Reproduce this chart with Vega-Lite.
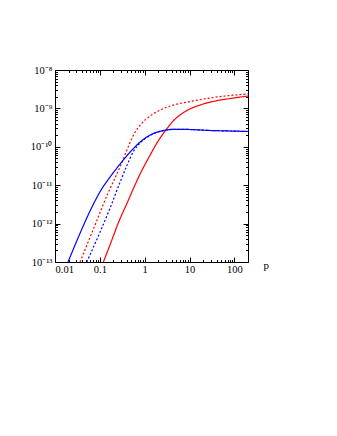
{
  "$schema": "https://vega.github.io/schema/vega-lite/v6.json",
  "autosize": {"type": "none"},
  "padding": {"left": 55, "top": 70, "right": 89, "bottom": 174},
  "width": 193,
  "height": 192,
  "config": {
    "view": {"stroke": "black", "strokeWidth": 1},
    "font": "Liberation Serif",
    "axis": {
      "labelFont": "Liberation Serif",
      "labelFontSize": 10.5,
      "labelColor": "black",
      "tickColor": "black",
      "domain": false,
      "grid": false,
      "title": null
    }
  },
  "data": {
    "values": [
      {"s": "red solid", "p": 0.1197, "v": 1e-13},
      {"s": "red solid", "p": 0.178, "v": 3.32e-13},
      {"s": "red solid", "p": 0.268, "v": 1.17e-12},
      {"s": "red solid", "p": 0.405, "v": 3.44e-12},
      {"s": "red solid", "p": 0.579, "v": 8.97e-12},
      {"s": "red solid", "p": 0.789, "v": 1.96e-11},
      {"s": "red solid", "p": 1.32, "v": 6.1e-11},
      {"s": "red solid", "p": 1.99, "v": 1.42e-10},
      {"s": "red solid", "p": 2.85, "v": 2.58e-10},
      {"s": "red solid", "p": 4.31, "v": 4.7e-10},
      {"s": "red solid", "p": 7.98, "v": 8.3e-10},
      {"s": "red solid", "p": 17.3, "v": 1.23e-9},
      {"s": "red solid", "p": 37.3, "v": 1.56e-9},
      {"s": "red solid", "p": 80.5, "v": 1.81e-9},
      {"s": "red solid", "p": 200, "v": 2.1e-9},
      {"s": "red dotted", "p": 0.0361, "v": 1e-13},
      {"s": "red dotted", "p": 0.0866, "v": 1.24e-12},
      {"s": "red dotted", "p": 0.152, "v": 6.26e-12},
      {"s": "red dotted", "p": 0.218, "v": 1.54e-11},
      {"s": "red dotted", "p": 0.313, "v": 4.02e-11},
      {"s": "red dotted", "p": 0.426, "v": 9.9e-11},
      {"s": "red dotted", "p": 0.579, "v": 2.15e-10},
      {"s": "red dotted", "p": 0.832, "v": 3.93e-10},
      {"s": "red dotted", "p": 1.32, "v": 6.34e-10},
      {"s": "red dotted", "p": 2.21, "v": 9.08e-10},
      {"s": "red dotted", "p": 4.77, "v": 1.26e-9},
      {"s": "red dotted", "p": 10.3, "v": 1.51e-9},
      {"s": "red dotted", "p": 28.8, "v": 1.87e-9},
      {"s": "red dotted", "p": 80.5, "v": 2.17e-9},
      {"s": "red dotted", "p": 200, "v": 2.37e-9},
      {"s": "blue dotted", "p": 0.0511, "v": 1e-13},
      {"s": "blue dotted", "p": 0.101, "v": 6.04e-13},
      {"s": "blue dotted", "p": 0.169, "v": 2.55e-12},
      {"s": "blue dotted", "p": 0.2825, "v": 1.21e-11},
      {"s": "blue dotted", "p": 0.405, "v": 3.36e-11},
      {"s": "blue dotted", "p": 0.551, "v": 7.33e-11},
      {"s": "blue dotted", "p": 0.789, "v": 1.26e-10},
      {"s": "blue dotted", "p": 1.32, "v": 1.97e-10},
      {"s": "blue dotted", "p": 2.58, "v": 2.65e-10},
      {"s": "blue dotted", "p": 4.77, "v": 2.86e-10},
      {"s": "blue dotted", "p": 10.3, "v": 2.82e-10},
      {"s": "blue dotted", "p": 28.8, "v": 2.66e-10},
      {"s": "blue dotted", "p": 80.5, "v": 2.58e-10},
      {"s": "blue dotted", "p": 200, "v": 2.5e-10},
      {"s": "blue solid", "p": 0.0195, "v": 1e-13},
      {"s": "blue solid", "p": 0.0326, "v": 4.22e-13},
      {"s": "blue solid", "p": 0.0604, "v": 2.13e-12},
      {"s": "blue solid", "p": 0.1064, "v": 7.5e-12},
      {"s": "blue solid", "p": 0.169, "v": 1.64e-11},
      {"s": "blue solid", "p": 0.2825, "v": 3.56e-11},
      {"s": "blue solid", "p": 0.472, "v": 7.33e-11},
      {"s": "blue solid", "p": 0.789, "v": 1.33e-10},
      {"s": "blue solid", "p": 1.32, "v": 2.03e-10},
      {"s": "blue solid", "p": 2.58, "v": 2.65e-10},
      {"s": "blue solid", "p": 4.77, "v": 2.86e-10},
      {"s": "blue solid", "p": 10.3, "v": 2.82e-10},
      {"s": "blue solid", "p": 28.8, "v": 2.66e-10},
      {"s": "blue solid", "p": 80.5, "v": 2.58e-10},
      {"s": "blue solid", "p": 200, "v": 2.5e-10}
    ]
  },
  "layer": [
    {
      "mark": {"type": "line", "clip": true, "strokeWidth": 1.2, "interpolate": "monotone"},
      "encoding": {
        "x": {"field": "p", "type": "quantitative",
          "scale": {"type": "log", "domain": [0.01, 200], "nice": false},
          "axis": {"orient": "bottom", "values": [0.01, 0.1, 1, 10, 100], "format": "~g", "tickSize": -5, "labelPadding": 7, "title": "p", "titleFont": "Liberation Serif", "titleFontSize": 11, "titleFontWeight": "normal", "titleX": 208, "titleY": 3, "titleAlign": "left", "titleBaseline": "middle", "titleColor": "black"}},
        "y": {"field": "v", "type": "quantitative",
          "scale": {"type": "log", "domain": [1e-13, 1e-8], "nice": false},
          "axis": {"orient": "left", "values": [1e-13, 1e-12, 1e-11, 1e-10, 1e-9, 1e-8], "tickSize": -5, "labelPadding": 8,
            "labelExpr": "'10' + (datum.value < 1.5e-13 ? '⁻¹³' : datum.value < 1.5e-12 ? '⁻¹²' : datum.value < 1.5e-11 ? '⁻¹¹' : datum.value < 1.5e-10 ? '⁻¹⁰' : datum.value < 1.5e-9 ? '⁻⁹' : '⁻⁸')"}},
        "color": {"field": "s", "type": "nominal", "legend": null,
          "scale": {"domain": ["red solid", "red dotted", "blue dotted", "blue solid"], "range": ["#ff0000", "#ff0000", "#0000ff", "#0000ff"]}},
        "strokeDash": {"field": "s", "type": "nominal", "legend": null,
          "scale": {"domain": ["red solid", "red dotted", "blue dotted", "blue solid"], "range": [[1, 0], [2, 2], [2, 2], [1, 0]]}}
      }
    },
    {
      "mark": {"type": "line", "opacity": 0},
      "encoding": {
        "x": {"field": "p", "type": "quantitative",
          "axis": {"orient": "bottom", "labels": false, "tickSize": -2.5, "values": [0.02,0.03,0.04,0.05,0.06,0.07,0.08,0.09,0.2,0.3,0.4,0.5,0.6,0.7,0.8,0.9,2,3,4,5,6,7,8,9,20,30,40,50,60,70,80,90]}},
        "y": {"field": "v", "type": "quantitative",
          "axis": {"orient": "left", "labels": false, "tickSize": -2.5, "values": [2e-13,3e-13,4e-13,5e-13,6e-13,7e-13,8e-13,9e-13,2e-12,3e-12,4e-12,5e-12,6e-12,7e-12,8e-12,9e-12,2e-11,3e-11,4e-11,5e-11,6e-11,7e-11,8e-11,9e-11,2e-10,3e-10,4e-10,5e-10,6e-10,7e-10,8e-10,9e-10,2e-9,3e-9,4e-9,5e-9,6e-9,7e-9,8e-9,9e-9]}},
        "detail": {"field": "s"}
      }
    },
    {
      "mark": {"type": "line", "opacity": 0},
      "encoding": {
        "x": {"field": "p", "type": "quantitative",
          "axis": {"orient": "top", "labels": false, "tickSize": -5, "values": [0.01, 0.1, 1, 10, 100]}},
        "y": {"field": "v", "type": "quantitative",
          "axis": {"orient": "right", "labels": false, "tickSize": -5, "values": [1e-13, 1e-12, 1e-11, 1e-10, 1e-9, 1e-8]}},
        "detail": {"field": "s"}
      }
    },
    {
      "mark": {"type": "line", "opacity": 0},
      "encoding": {
        "x": {"field": "p", "type": "quantitative",
          "axis": {"orient": "top", "labels": false, "tickSize": -2.5, "values": [0.02,0.03,0.04,0.05,0.06,0.07,0.08,0.09,0.2,0.3,0.4,0.5,0.6,0.7,0.8,0.9,2,3,4,5,6,7,8,9,20,30,40,50,60,70,80,90]}},
        "y": {"field": "v", "type": "quantitative",
          "axis": {"orient": "right", "labels": false, "tickSize": -2.5, "values": [2e-13,3e-13,4e-13,5e-13,6e-13,7e-13,8e-13,9e-13,2e-12,3e-12,4e-12,5e-12,6e-12,7e-12,8e-12,9e-12,2e-11,3e-11,4e-11,5e-11,6e-11,7e-11,8e-11,9e-11,2e-10,3e-10,4e-10,5e-10,6e-10,7e-10,8e-10,9e-10,2e-9,3e-9,4e-9,5e-9,6e-9,7e-9,8e-9,9e-9]}},
        "detail": {"field": "s"}
      }
    }
  ],
  "resolve": {"axis": {"x": "independent", "y": "independent"}}
}
